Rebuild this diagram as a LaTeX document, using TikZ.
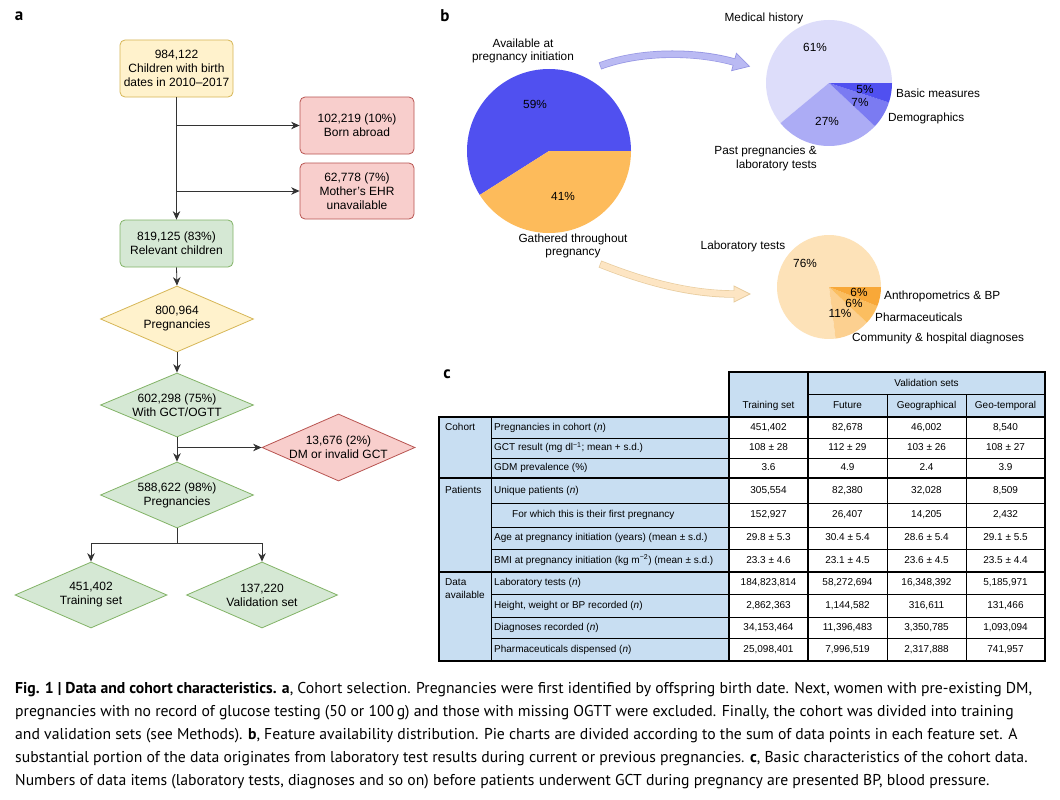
\documentclass[tikz,border=0pt]{standalone}
\usepackage{fontspec}
\setmainfont{Liberation Sans}
\newfontfamily\capfont{PT Sans}
\usetikzlibrary{shapes.geometric,arrows.meta}
\definecolor{yelF}{HTML}{FFF2CC}
\definecolor{yelD}{HTML}{D6B656}
\definecolor{redF}{HTML}{F8CECC}
\definecolor{redD}{HTML}{B85450}
\definecolor{grnF}{HTML}{D5E8D4}
\definecolor{grnD}{HTML}{82B366}
\definecolor{flow}{HTML}{333333}
\definecolor{pBlue}{RGB}{80,80,240}
\definecolor{pOrange}{RGB}{253,187,91}
\definecolor{mhist}{RGB}{221,221,250}
\definecolor{ppast}{RGB}{172,172,245}
\definecolor{pdemo}{RGB}{123,123,242}
\definecolor{pbasic}{RGB}{80,80,240}
\definecolor{plab}{RGB}{253,226,184}
\definecolor{pcomm}{RGB}{252,208,144}
\definecolor{pharm}{RGB}{251,190,96}
\definecolor{panth}{RGB}{248,168,56}
\definecolor{arrB}{RGB}{186,186,243}
\definecolor{arrBd}{RGB}{150,150,228}
\definecolor{arrO}{RGB}{253,229,195}
\definecolor{arrOd}{RGB}{232,204,158}
\definecolor{tblue}{RGB}{200,222,242}
\newcommand{\trow}[8]{%
  \node[tlab] (#1l) at (#3,#2) {#4};
  \node[tval] (#1a) at (768.5,#2) {#5};
  \node[tval] (#1b) at (847.5,#2) {#6};
  \node[tval] (#1c) at (926.5,#2) {#7};
  \node[tval] (#1d) at (1005.5,#2) {#8};
}
\begin{document}
\begin{tikzpicture}[x={(1pt,0pt)}, y={(0pt,-1pt)},
  fbox/.style={rectangle, rounded corners=5pt, inner sep=0pt, align=center,
    font=\fontsize{12}{14}\selectfont, line width=0.8pt},
  dia/.style={diamond, inner sep=0pt, line width=0.8pt},
  dtxt/.style={align=center, inner sep=0pt, font=\fontsize{12}{14}\selectfont},
  yelb/.style={fill=yelF, draw=yelD},
  redb/.style={fill=redF, draw=redD},
  grnb/.style={fill=grnF, draw=grnD},
  fl/.style={draw=flow, line width=0.8pt},
  fla/.style={fl, -{Stealth[length=8.5pt,width=7.5pt]}},
  ptxt/.style={align=center, inner sep=0pt, font=\fontsize{11.8}{13.5}\selectfont},
  plabel/.style={inner sep=0pt, font=\capfont\bfseries\fontsize{17}{17}\selectfont},
  tlab/.style={anchor=west, inner sep=0pt, font=\fontsize{10}{12}\selectfont, text height=7.5pt, text depth=2pt},
  tval/.style={inner sep=0pt, font=\fontsize{10}{12}\selectfont, text height=7.5pt, text depth=2pt},
  tthin/.style={line width=0.7pt, draw=black},
  tthick/.style={line width=2.2pt, draw=black},
  capline/.style={anchor=base west, inner sep=0pt, font=\capfont\fontsize{15.7}{16}\selectfont}
]
\useasboundingbox (0,0) rectangle (1060,800);
\fill[white] (0,0) rectangle (1060,800);

% panel labels
\node[plabel] (la) at (19,16) {a};
\node[plabel] (lb) at (445,16) {b};
\node[plabel] (lc) at (447,374) {c};

% ---------------- panel a ----------------
\node[fbox, yelb, minimum width=113pt, minimum height=57pt] (b1) at (176.5,68.5) {984,122\\Children with birth\\dates in 2010–2017};
\node[fbox, redb, minimum width=114pt, minimum height=57pt] (born) at (357,125.5) {102,219 (10\%)\\Born abroad};
\node[fbox, redb, minimum width=114pt, minimum height=56pt] (ehr) at (357,191) {62,778 (7\%)\\Mother's EHR\\unavailable};
\node[fbox, grnb, minimum width=113pt, minimum height=47pt] (rel) at (176.5,243.5) {819,125 (83\%)\\Relevant children};

\node[dia, yelb, minimum width=153pt, minimum height=66pt] (d1) at (177,319) {};
\node[dtxt] (d1t) at (d1) {800,964\\Pregnancies};
\node[dia, grnb, minimum width=153pt, minimum height=64pt] (d2) at (177,405) {};
\node[dtxt] (d2t) at (d2) {602,298 (75\%)\\With GCT/OGTT};
\node[dia, redb, minimum width=153pt, minimum height=67pt] (dm) at (338.5,447.5) {};
\node[dtxt] (dmt) at (dm) {13,676 (2\%)\\DM or invalid GCT};
\node[dia, grnb, minimum width=153pt, minimum height=66pt] (d3) at (177,495) {};
\node[dtxt] (d3t) at (d3) {588,622 (98\%)\\Pregnancies};
\node[dia, grnb, minimum width=152pt, minimum height=66pt] (tr) at (91,595) {};
\node[dtxt] (trt) at (tr) {451,402\\Training set};
\node[dia, grnb, minimum width=151pt, minimum height=66pt] (va) at (262,595) {};
\node[dtxt] (vat) at (va) {137,220\\Validation set};

\draw[fla] (b1.south) -- (rel.north);
\draw[fla] (b1.south |- born.west) -- (born.west);
\draw[fla] (b1.south |- ehr.west) -- (ehr.west);
\draw[fla] (rel.south) -- (d1.north);
\draw[fla] (d1.south) -- (d2.north);
\draw[fla] (d2.south) -- (d3.north);
\draw[fla] (d2.south |- dm.west) -- (dm.west);
\coordinate (split) at (177,543);
\draw[fl] (d3.south) -- (split);
\draw[fla] (split) -| (tr.north);
\draw[fla] (split) -| (va.north);

% ---------------- panel b ----------------
% big pie
\begin{scope}[shift={(549,151)}, y={(0pt,1pt)}]
  \fill[pBlue] (0,0) -- (0:82) arc[start angle=0, end angle=212.4, radius=82] -- cycle;
  \fill[pOrange] (0,0) -- (212.4:82) arc[start angle=212.4, end angle=360, radius=82] -- cycle;
\end{scope}
% medical history pie
\begin{scope}[shift={(829,83)}, y={(0pt,1pt)}]
  \fill[mhist] (0,0) -- (0:63) arc[start angle=0, end angle=219.6, radius=63] -- cycle;
  \fill[ppast] (0,0) -- (-140.4:63) arc[start angle=-140.4, end angle=-43.2, radius=63] -- cycle;
  \fill[pdemo] (0,0) -- (-43.2:63) arc[start angle=-43.2, end angle=-18, radius=63] -- cycle;
  \fill[pbasic] (0,0) -- (-18:63) arc[start angle=-18, end angle=0, radius=63] -- cycle;
\end{scope}
% pregnancy pie
\begin{scope}[shift={(829,287)}, y={(0pt,1pt)}]
  \fill[plab] (0,0) -- (0:52) arc[start angle=0, end angle=277.2, radius=52] -- cycle;
  \fill[pcomm] (0,0) -- (-82.8:52) arc[start angle=-82.8, end angle=-43.2, radius=52] -- cycle;
  \fill[pharm] (0,0) -- (-43.2:52) arc[start angle=-43.2, end angle=-21.6, radius=52] -- cycle;
  \fill[panth] (0,0) -- (-21.6:52) arc[start angle=-21.6, end angle=0, radius=52] -- cycle;
\end{scope}

% curved block arrows
\draw[arrBd, line width=7.4pt] (600,66) .. controls (640,51) and (695,51) .. (734,62);
\filldraw[fill=arrB, draw=arrBd, line width=0.7pt] (736.4,53.3) -- (749.5,66.3) -- (731.6,70.7) -- cycle;
\draw[arrB, line width=6pt, shorten <=0.7pt, shorten >=-2pt] (600,66) .. controls (640,51) and (695,51) .. (734,62);

\draw[arrOd, line width=7.4pt] (600,264) .. controls (645,282) and (690,294) .. (734,294);
\filldraw[fill=arrO, draw=arrOd, line width=0.7pt] (734,286) -- (750,294) -- (734,302) -- cycle;
\draw[arrO, line width=6pt, shorten <=0.7pt, shorten >=-2pt] (600,264) .. controls (645,282) and (690,294) .. (734,294);

% pie texts
\node[ptxt] (tavail) at (523,51) {Available at\\pregnancy initiation};
\node[ptxt] (t59) at (535,104) {59\%};
\node[ptxt] (t41) at (563,196) {41\%};
\node[ptxt] (tgath) at (573,246) {Gathered throughout\\pregnancy};
\node[ptxt] (tmed) at (764,18) {Medical history};
\node[ptxt] (t61) at (815,47) {61\%};
\node[ptxt] (t5) at (865,89) {5\%};
\node[ptxt] (t7) at (860,102) {7\%};
\node[ptxt] (t27) at (827,121) {27\%};
\node[ptxt, anchor=west] (tbasic) at (896,93) {Basic measures};
\node[ptxt, anchor=west] (tdemo) at (888,118) {Demographics};
\node[ptxt, anchor=east, align=right] (tpast) at (817,158.5) {Past pregnancies \&\\laboratory tests};
\node[ptxt] (tlabt) at (743,246) {Laboratory tests};
\node[ptxt] (t76) at (805,263) {76\%};
\node[ptxt] (t6a) at (859,292) {6\%};
\node[ptxt] (t6b) at (854,303) {6\%};
\node[ptxt] (t11) at (840,313) {11\%};
\node[ptxt, anchor=west] (tanth) at (884,296) {Anthropometrics \& BP};
\node[ptxt, anchor=west] (tpharm) at (875,317) {Pharmaceuticals};
\node[ptxt, anchor=west] (tcomm) at (852,338) {Community \& hospital diagnoses};

% ---------------- panel c ----------------
\fill[tblue] (729,372) rectangle (1045,417);
\fill[tblue] (439,417) rectangle (729,661);
\draw[tthin] (808,394) -- (1045,394);
\draw[tthin] (887,394) -- (887,661);
\draw[tthin] (966,394) -- (966,661);
\draw[tthin] (491,417) -- (491,661);
\foreach \yy in {438,458,503.5,527,549,594,617,638} \draw[tthin] (491,\yy) -- (1045,\yy);
\draw[tthick, line join=miter] (729,417) -- (729,372) -- (1045,372) -- (1045,661) -- (439,661) -- (439,417) -- cycle;
\draw[tthick] (439,478) -- (1045,478);
\draw[tthick] (439,572) -- (1045,572);
\draw[tthick] (729,417) -- (729,661);
\draw[tthick] (808,372) -- (808,661);
\draw[tthick] (729,417) -- (1045,417);

\node[tval] (hval) at (926.5,383.5) {Validation sets};
\node[tval] (htr) at (768.5,406) {Training set};
\node[tval] (hfu) at (847.5,406) {Future};
\node[tval] (hge) at (926.5,406) {Geographical};
\node[tval] (hgt) at (1005.5,406) {Geo-temporal};

\node[tlab] (gcoh) at (445,427.5) {Cohort};
\node[tlab] (gpat) at (445,491) {Patients};
\node[anchor=north west, align=left, inner sep=0pt, font=\fontsize{10}{12.5}\selectfont] (gdat) at (445,578.5) {Data\\available};

\trow{tc1}{427.5}{494}{Pregnancies in cohort (\textit{n})}{451,402}{82,678}{46,002}{8,540}
\trow{tc2}{448}{494}{GCT result (mg dl\textsuperscript{−1}; mean + s.d.)}{108 ± 28}{112 ± 29}{103 ± 26}{108 ± 27}
\trow{tc3}{468}{494}{GDM prevalence (\%)}{3.6}{4.9}{2.4}{3.9}
\trow{tp1}{491}{494}{Unique patients (\textit{n})}{305,554}{82,380}{32,028}{8,509}
\trow{tp2}{515}{512}{For which this is their first pregnancy}{152,927}{26,407}{14,205}{2,432}
\trow{tp3}{538}{494}{Age at pregnancy initiation (years) (mean ± s.d.)}{29.8 ± 5.3}{30.4 ± 5.4}{28.6 ± 5.4}{29.1 ± 5.5}
\trow{tp4}{560.5}{494}{BMI at pregnancy initiation (kg m\textsuperscript{−2}) (mean ± s.d.)}{23.3 ± 4.6}{23.1 ± 4.5}{23.6 ± 4.5}{23.5 ± 4.4}
\trow{td1}{583}{494}{Laboratory tests (\textit{n})}{184,823,814}{58,272,694}{16,348,392}{5,185,971}
\trow{td2}{605.5}{494}{Height, weight or BP recorded (\textit{n})}{2,862,363}{1,144,582}{316,611}{131,466}
\trow{td3}{627.5}{494}{Diagnoses recorded (\textit{n})}{34,153,464}{11,396,483}{3,350,785}{1,093,094}
\trow{td4}{649.5}{494}{Pharmaceuticals dispensed (\textit{n})}{25,098,401}{7,996,519}{2,317,888}{741,957}

% ---------------- caption ----------------
\node[capline] (cap1) at (15,693) {\textbf{Fig. 1 | Data and cohort characteristics. a}, Cohort selection. Pregnancies were first identified by offspring birth date. Next, women with pre-existing DM,};
\node[capline] (cap2) at (15,716) {pregnancies with no record of glucose testing (50 or 100\,g) and those with missing OGTT were excluded. Finally, the cohort was divided into training};
\node[capline] (cap3) at (15,739) {and validation sets (see Methods). \textbf{b}, Feature availability distribution. Pie charts are divided according to the sum of data points in each feature set. A};
\node[capline] (cap4) at (15,762) {substantial portion of the data originates from laboratory test results during current or previous pregnancies. \textbf{c}, Basic characteristics of the cohort data.};
\node[capline] (cap5) at (15,785) {Numbers of data items (laboratory tests, diagnoses and so on) before patients underwent GCT during pregnancy are presented BP, blood pressure.};
\end{tikzpicture}
\end{document}
